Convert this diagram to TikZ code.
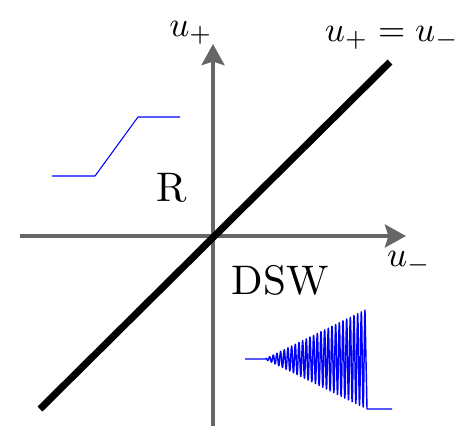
\documentclass[tikz,border=0pt]{standalone}
\usepackage{amsmath}
\usetikzlibrary{positioning,arrows.meta,calc}
\definecolor{axisgray}{HTML}{666666}
\definecolor{waveblue}{HTML}{0000FF}

\begin{document}
\begin{tikzpicture}[
  x=0.02cm, y=-0.02cm,
  axis/.style={draw=axisgray, line width=2.3pt, -{Stealth[length=12pt,width=13pt,inset=2pt]}},
  diag/.style={draw=black, line width=4pt},
  wave/.style={draw=waveblue, line width=0.6pt, line join=round},
  region/.style={scale=2.35, inner sep=0pt},
  axlabel/.style={scale=2.0, inner sep=0pt}
]
  \useasboundingbox (0,0) rectangle (470,441);
  % axes
  \coordinate (o) at (213,236);
  \coordinate (xl) at (20,236);
  \coordinate (xr) at (406,236);
  \coordinate (yb) at (213,426);
  \coordinate (yt) at (213,44);
  \draw[axis] (xl) -- (xr);
  \draw[axis] (yb) -- (yt);
  % diagonal u+ = u-
  \coordinate (dl) at (40,409);
  \coordinate (dr) at (390,62);
  \draw[diag] (dl) -- (dr);
  % labels
  \node[axlabel] (uplus) at (191,33) {$u_+$};
  \node[axlabel] (equal) at (392,38) {$u_+ = u_-$};
  \node[axlabel] (uminus) at (409,263) {$u_-$};
  \node[region] (rare) at (172,188) {R};
  \node[region] (dsw) at (280,280) {DSW};
  % rarefaction sketch
  \draw[wave] (52,176) -- (95,176) -- (138,117) -- (180,117);
  % dispersive shock sketch
  \draw[wave, line width=0.8pt] (245,359) -- (265,359)
    -- plot[domain=0:100, samples=600]
       ({265+\x}, {359 - 0.49*\x*sin(98.1*\x)})
    -- (367,409) -- (392,409);
\end{tikzpicture}
\end{document}
